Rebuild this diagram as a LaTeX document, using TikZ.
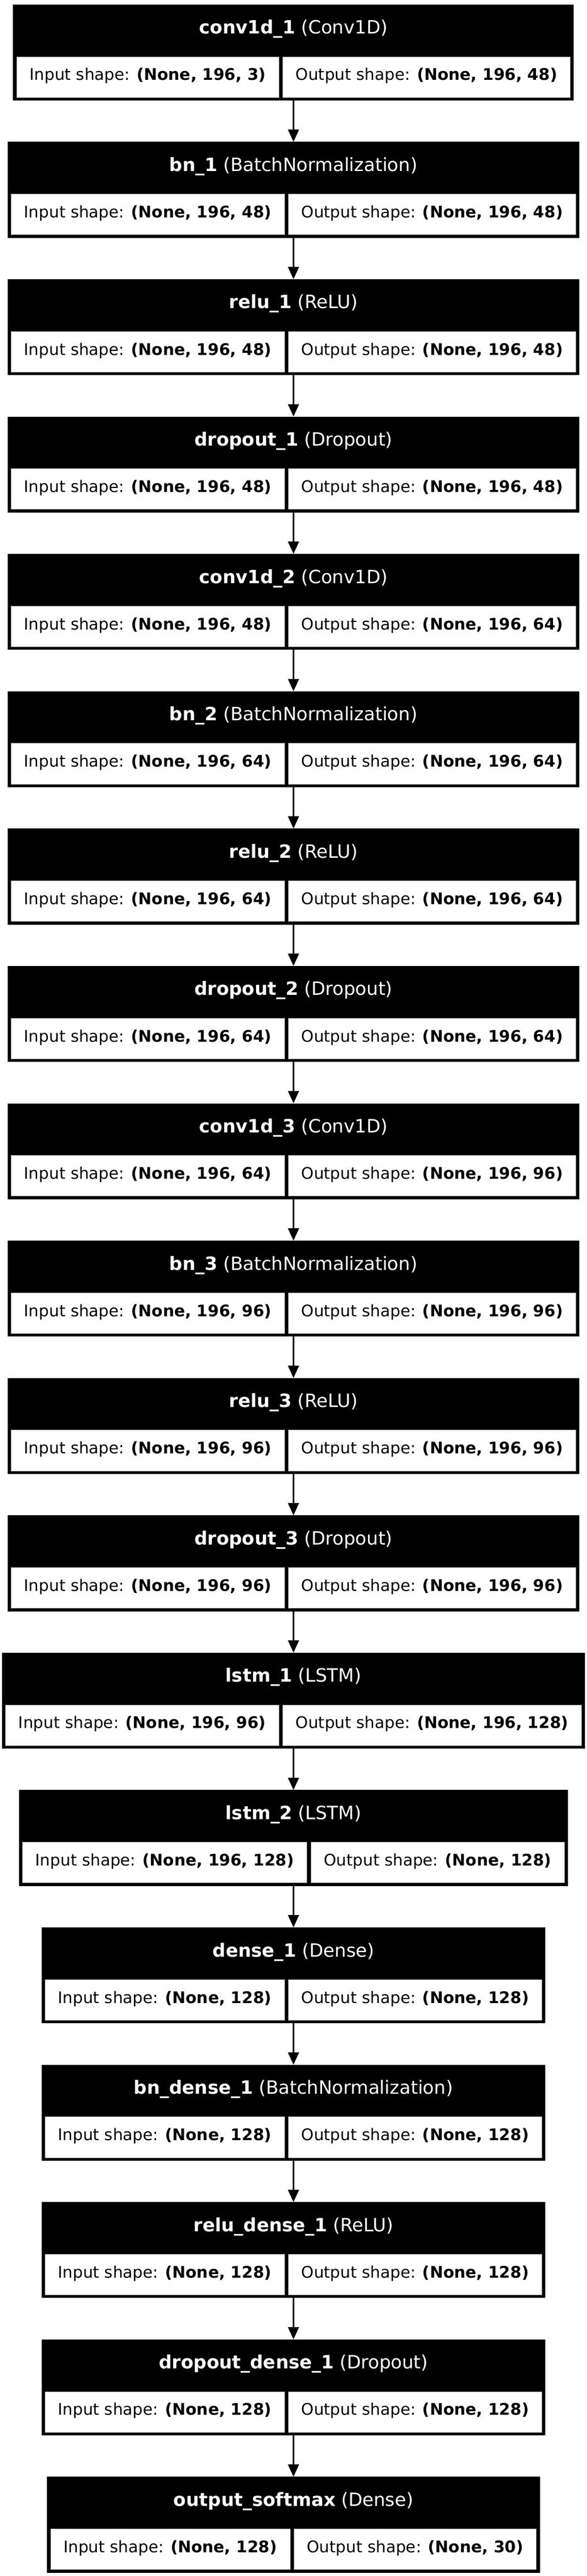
\documentclass[tikz,border=0pt]{standalone}
\usepackage{fontspec}
\setmainfont{DejaVu Sans}
\usepackage{tikz}
\usetikzlibrary{positioning,arrows.meta}

\setlength{\fboxsep}{0pt}
\setlength{\fboxrule}{0.36pt}
\renewcommand{\arraystretch}{0}
\newcommand{\headrow}[2]{\multicolumn{2}{@{}c@{}}{\fontsize{16pt}{19pt}\selectfont\rule[-19.69pt]{0pt}{42.84pt}\textbf{#1} (#2)}}
\newcommand{\shapecell}[2]{\fcolorbox{black!45}{white}{\color{black}\rule[-14.76pt]{0pt}{35.28pt}\hspace{11.2pt}#1 shape: \textbf{#2}\hspace{11.2pt}}}
\newcommand{\shaperow}[2]{\shapecell{Input}{#1} & \shapecell{Output}{#2}}

\begin{document}
\begin{tikzpicture}[line cap=butt,line join=miter,
  layer/.style={fill=black,text=white,inner xsep=2.88pt,inner ysep=2.52pt,outer sep=0pt,
    font=\fontsize{14pt}{17pt}\selectfont},
  flow/.style={-{Triangle[width=9.4pt,length=10.8pt]},line width=1.7pt}]
\useasboundingbox (0,0) rectangle (513pt,-2252.16pt);

\node[layer,anchor=north] (conv1) at (256.5pt,-3.96pt) {\begin{tabular}{@{}c@{\hspace{2.88pt}}c@{}}
  \headrow{conv1d\_1}{Conv1D}\\ \shaperow{(None, 196, 3)}{(None, 196, 48)}\end{tabular}};
\node[layer,below=36.2pt of conv1] (bn1) {\begin{tabular}{@{}c@{\hspace{2.88pt}}c@{}}
  \headrow{bn\_1}{BatchNormalization}\\ \shaperow{(None, 196, 48)}{(None, 196, 48)}\end{tabular}};
\node[layer,below=36.2pt of bn1] (relu1) {\begin{tabular}{@{}c@{\hspace{2.88pt}}c@{}}
  \headrow{relu\_1}{ReLU}\\ \shaperow{(None, 196, 48)}{(None, 196, 48)}\end{tabular}};
\node[layer,below=36.2pt of relu1] (drop1) {\begin{tabular}{@{}c@{\hspace{2.88pt}}c@{}}
  \headrow{dropout\_1}{Dropout}\\ \shaperow{(None, 196, 48)}{(None, 196, 48)}\end{tabular}};

\node[layer,below=36.2pt of drop1] (conv2) {\begin{tabular}{@{}c@{\hspace{2.88pt}}c@{}}
  \headrow{conv1d\_2}{Conv1D}\\ \shaperow{(None, 196, 48)}{(None, 196, 64)}\end{tabular}};
\node[layer,below=36.2pt of conv2] (bn2) {\begin{tabular}{@{}c@{\hspace{2.88pt}}c@{}}
  \headrow{bn\_2}{BatchNormalization}\\ \shaperow{(None, 196, 64)}{(None, 196, 64)}\end{tabular}};
\node[layer,below=36.2pt of bn2] (relu2) {\begin{tabular}{@{}c@{\hspace{2.88pt}}c@{}}
  \headrow{relu\_2}{ReLU}\\ \shaperow{(None, 196, 64)}{(None, 196, 64)}\end{tabular}};
\node[layer,below=36.2pt of relu2] (drop2) {\begin{tabular}{@{}c@{\hspace{2.88pt}}c@{}}
  \headrow{dropout\_2}{Dropout}\\ \shaperow{(None, 196, 64)}{(None, 196, 64)}\end{tabular}};

\node[layer,below=36.2pt of drop2] (conv3) {\begin{tabular}{@{}c@{\hspace{2.88pt}}c@{}}
  \headrow{conv1d\_3}{Conv1D}\\ \shaperow{(None, 196, 64)}{(None, 196, 96)}\end{tabular}};
\node[layer,below=36.2pt of conv3] (bn3) {\begin{tabular}{@{}c@{\hspace{2.88pt}}c@{}}
  \headrow{bn\_3}{BatchNormalization}\\ \shaperow{(None, 196, 96)}{(None, 196, 96)}\end{tabular}};
\node[layer,below=36.2pt of bn3] (relu3) {\begin{tabular}{@{}c@{\hspace{2.88pt}}c@{}}
  \headrow{relu\_3}{ReLU}\\ \shaperow{(None, 196, 96)}{(None, 196, 96)}\end{tabular}};
\node[layer,below=36.2pt of relu3] (drop3) {\begin{tabular}{@{}c@{\hspace{2.88pt}}c@{}}
  \headrow{dropout\_3}{Dropout}\\ \shaperow{(None, 196, 96)}{(None, 196, 96)}\end{tabular}};

\node[layer,below=36.2pt of drop3] (lstm1) {\begin{tabular}{@{}c@{\hspace{2.88pt}}c@{}}
  \headrow{lstm\_1}{LSTM}\\ \shaperow{(None, 196, 96)}{(None, 196, 128)}\end{tabular}};
\node[layer,below=36.2pt of lstm1] (lstm2) {\begin{tabular}{@{}c@{\hspace{2.88pt}}c@{}}
  \headrow{lstm\_2}{LSTM}\\ \shaperow{(None, 196, 128)}{(None, 128)}\end{tabular}};

\node[layer,below=36.2pt of lstm2] (dense1) {\begin{tabular}{@{}c@{\hspace{2.88pt}}c@{}}
  \headrow{dense\_1}{Dense}\\ \shaperow{(None, 128)}{(None, 128)}\end{tabular}};
\node[layer,below=36.2pt of dense1] (bndense1) {\begin{tabular}{@{}c@{\hspace{2.88pt}}c@{}}
  \headrow{bn\_dense\_1}{BatchNormalization}\\ \shaperow{(None, 128)}{(None, 128)}\end{tabular}};
\node[layer,below=36.2pt of bndense1] (reludense1) {\begin{tabular}{@{}c@{\hspace{2.88pt}}c@{}}
  \headrow{relu\_dense\_1}{ReLU}\\ \shaperow{(None, 128)}{(None, 128)}\end{tabular}};
\node[layer,below=36.2pt of reludense1] (dropdense1) {\begin{tabular}{@{}c@{\hspace{2.88pt}}c@{}}
  \headrow{dropout\_dense\_1}{Dropout}\\ \shaperow{(None, 128)}{(None, 128)}\end{tabular}};
\node[layer,below=36.2pt of dropdense1] (softmax) {\begin{tabular}{@{}c@{\hspace{2.88pt}}c@{}}
  \headrow{output\_softmax}{Dense}\\ \shaperow{(None, 128)}{(None, 30)}\end{tabular}};

\draw [flow] (conv1) -- (bn1);
\draw [flow] (bn1) -- (relu1);
\draw [flow] (relu1) -- (drop1);
\draw [flow] (drop1) -- (conv2);
\draw [flow] (conv2) -- (bn2);
\draw [flow] (bn2) -- (relu2);
\draw [flow] (relu2) -- (drop2);
\draw [flow] (drop2) -- (conv3);
\draw [flow] (conv3) -- (bn3);
\draw [flow] (bn3) -- (relu3);
\draw [flow] (relu3) -- (drop3);
\draw [flow] (drop3) -- (lstm1);
\draw [flow] (lstm1) -- (lstm2);
\draw [flow] (lstm2) -- (dense1);
\draw [flow] (dense1) -- (bndense1);
\draw [flow] (bndense1) -- (reludense1);
\draw [flow] (reludense1) -- (dropdense1);
\draw [flow] (dropdense1) -- (softmax);
\end{tikzpicture}
\end{document}
